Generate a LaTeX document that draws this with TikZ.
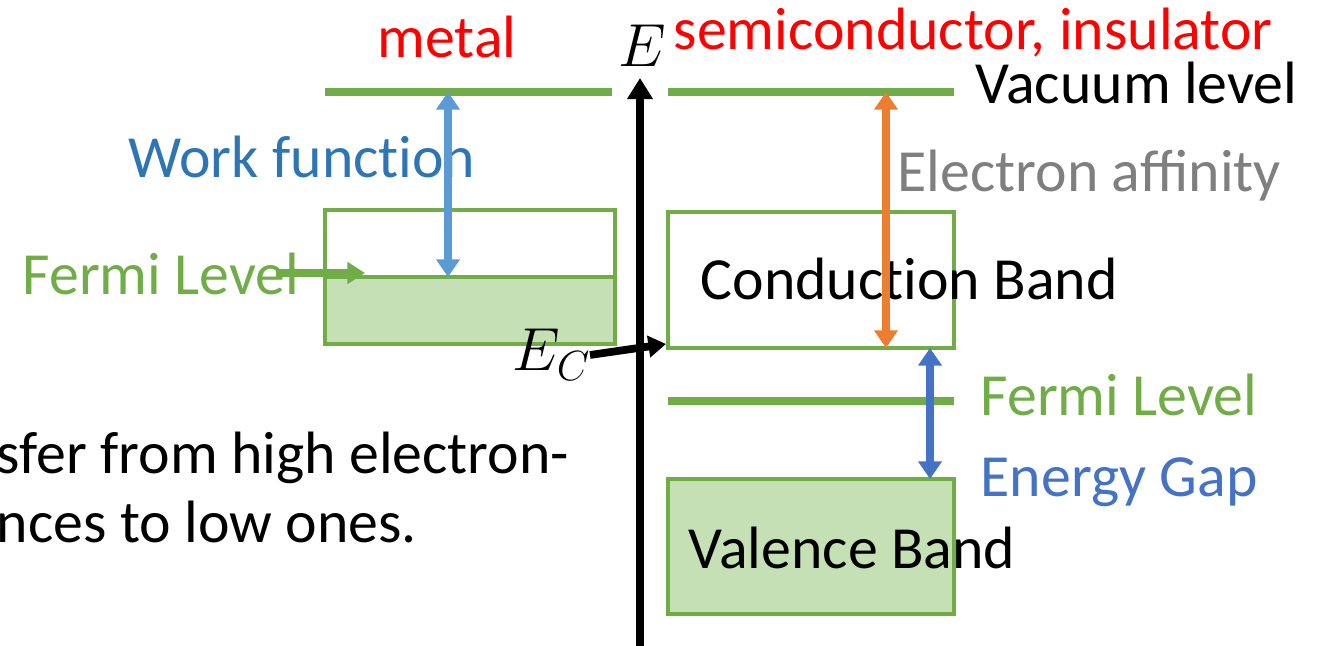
\documentclass[tikz,border=0pt]{standalone}
\usepackage{fontspec}
\setmainfont{Carlito}
\newfontfamily\noliga{Carlito}[RawFeature=-liga]
\usepackage{tikz}
\usetikzlibrary{arrows.meta,positioning}
\definecolor{bandgreen}{RGB}{112,173,71}
\definecolor{bandfill}{RGB}{197,224,180}
\definecolor{wfblue}{RGB}{91,155,213}
\definecolor{wftext}{RGB}{46,117,182}
\definecolor{gapblue}{RGB}{68,114,196}
\definecolor{eaorange}{RGB}{237,125,49}
\definecolor{eagray}{RGB}{127,127,127}
\definecolor{titlered}{RGB}{255,0,0}

\begin{document}
\begin{tikzpicture}[x=0.01cm, y=-0.01cm, line join=miter,
    font=\fontsize{17}{20}\selectfont,
    level/.style={bandgreen, line width=2pt},
    bandbox/.style={draw=bandgreen, line width=1.2pt},
    twoway/.style={line width=2.2pt, {Triangle[length=5pt,width=6.5pt]}-{Triangle[length=5pt,width=6.5pt]}},
    lbl/.style={inner sep=0pt, anchor=base west}]
  \path[use as bounding box] (0,0) rectangle (1321,646);

  % Bands of the metal
  \fill[bandfill] (325,277) rectangle (615,344);
  \draw[bandbox] (325,210) rectangle (615,344);
  \draw[level, line width=1.4pt] (325,277) -- (615,277);

  % Bands of the semiconductor
  \fill[bandfill] (668,479) rectangle (954,614);
  \draw[bandbox] (668,479) rectangle (954,614);
  \draw[bandbox] (668,212) rectangle (954,348);

  % Vacuum and Fermi levels
  \draw[level] (325,92) -- (612,92);
  \draw[level] (668,92) -- (954,92);
  \draw[level] (668,401) -- (954,401);

  % Labels
  \node[titlered, inner sep=0pt, anchor=base] (metal) at (447,58) {metal};
  \node[lbl, titlered] (semi) at (673,50) {semiconductor, insulator};
  \node[inner sep=0pt, anchor=base] (elabel) at (642,67) {$E$};
  \node[lbl] (vaclbl) at (975,104) {Vacuum level};
  \node[lbl, wftext, font=\fontsize{17}{20}\noliga] (wflbl) at (128,178) {Work function};
  \node[lbl, bandgreen] (mfermilbl) at (22,295) {Fermi Level};
  \node[lbl, eagray] (ealbl) at (897,192) {Electron affinity};
  \node[lbl, font=\fontsize{17}{20}\noliga] (cblbl) at (700,300) {Conduction Band};
  \node[lbl, bandgreen] (sfermilbl) at (980,416) {Fermi Level};
  \node[lbl, gapblue] (gaplbl) at (980,497) {Energy Gap};
  \node[lbl] (vblbl) at (688,569) {Valence Band};
  \node[inner sep=0pt, anchor=base west] (eclbl) at (512,371) {$E_{\mathnormal{C}}$};
  \node[lbl] (line1) at (-4,474) {sfer from high electron-};
  \node[lbl] (line2) at (-4,543) {nces to low ones.};

  % End points of the connectors
  \coordinate (axbot) at (640,646);
  \coordinate (axtop) at (640,78);
  \coordinate (mvac) at (448,92);
  \coordinate (mfermi) at (448,277);
  \coordinate (fstart) at (276,273);
  \coordinate (fend) at (365,273);
  \coordinate (svac) at (886,92);
  \coordinate (cbot) at (886,348);
  \coordinate (gtop) at (930,348);
  \coordinate (vtop) at (930,479);
  \coordinate (ecstart) at (590,355);
  \coordinate (ecend) at (666,344);

  % Energy axis
  \draw[line width=2.2pt, -{Triangle[length=6pt,width=7pt]}] (axbot) -- (axtop);

  % Arrows
  \draw[twoway, wfblue] (mvac) -- (mfermi);
  \draw[bandgreen, line width=2pt, -{Triangle[length=5pt,width=6pt]}] (fstart) -- (fend);
  \draw[twoway, eaorange, line width=2.5pt] (svac) -- (cbot);
  \draw[twoway, gapblue] (gtop) -- (vtop);
  \draw[line width=2.2pt, -{Triangle[length=5pt,width=6pt]}] (ecstart) -- (ecend);

\end{tikzpicture}
\end{document}
